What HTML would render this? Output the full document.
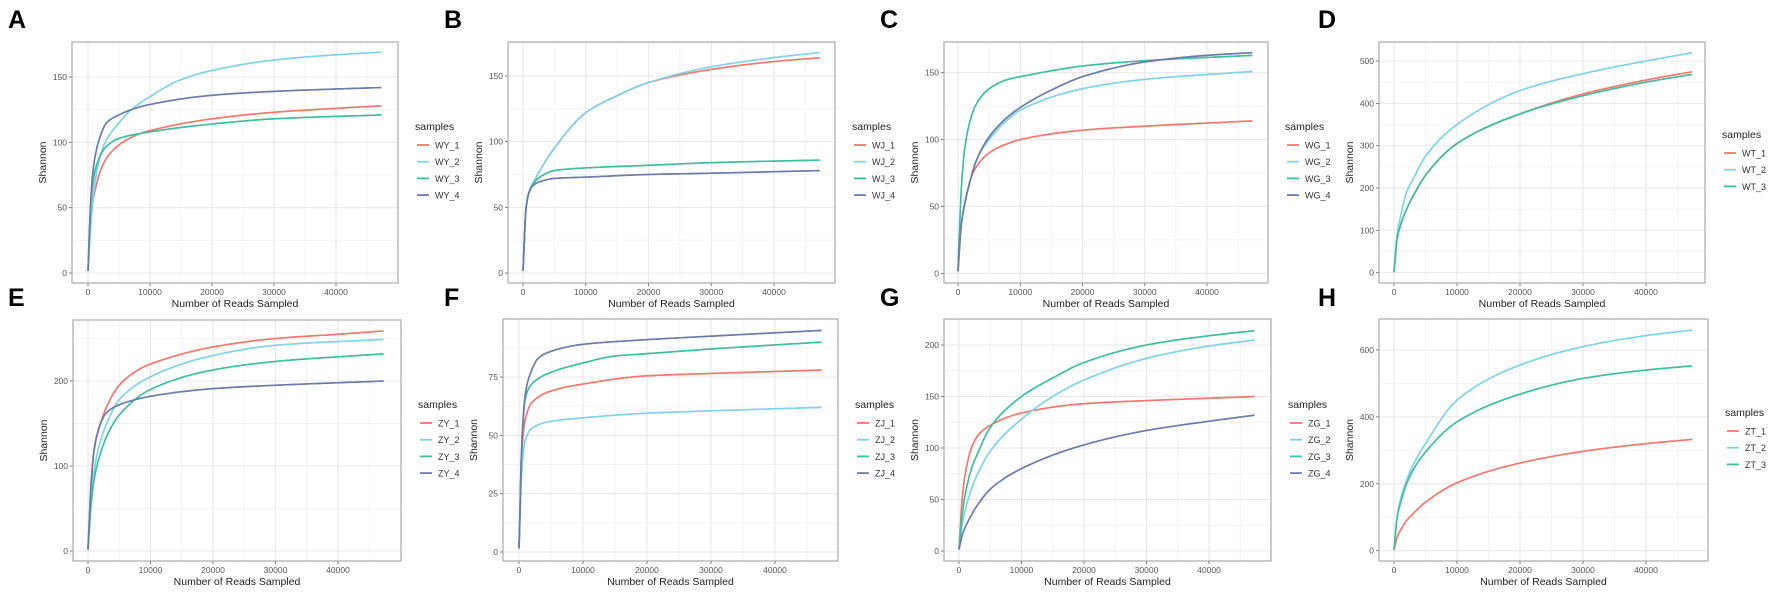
<!DOCTYPE html>
<html><head><meta charset="utf-8"><style>
html,body{margin:0;padding:0;background:#fff;}
svg text{font-family:"Liberation Sans",Arial,sans-serif;}
</style></head><body>
<svg id="s" width="1772" height="592" xmlns="http://www.w3.org/2000/svg"></svg>
<script>
const C={r:"#F8766D",c:"#7FD3E6",g:"#3DBE9F",p:"#6B7BAC"};
const P=[
{L:"A",lx:8,ly:28,box:[72,42,398,283],x0:88,x4:336,y0:273,yv:150,yp:77,ticks:[0,50,100,150],minor:25,
 leg:[415,127],pre:"WY",
 s:[["r",[[0.5,45],[1,60],[2,78],[3,88],[5,98],[8,106],[10,109],[20,118],[30,123],[40,126],[47.5,128]]],
    ["c",[[0.5,40],[1,65],[2,90],[3,102],[5,115],[7,125],[10,135],[15,148],[20,155],[30,163],[40,167],[47.5,169]]],
    ["g",[[0.5,55],[1,75],[2,90],[3,97],[5,103],[10,108],[20,114],[30,118],[47.5,121]]],
    ["p",[[0.5,60],[1,85],[2,105],[3,115],[5,121],[7,125],[10,129],[20,136],[30,139],[47.5,142]]]]},
{L:"B",lx:444,ly:28,box:[508,42,835,283],x0:523,x4:774,y0:273,yv:150,yp:76,ticks:[0,50,100,150],minor:25,
 leg:[852,127],pre:"WJ",
 s:[["r",[[0.5,50],[1,62],[2,72],[5,95],[10,122],[15,135],[20,145],[30,155],[40,161],[47.5,164]]],
    ["c",[[0.5,50],[1,62],[2,72],[5,95],[10,122],[15,135],[20,145],[30,157],[40,164],[47.5,168]]],
    ["g",[[0.5,50],[1,62],[2,70],[3,74],[5,78],[10,80],[20,82],[30,84],[47.5,86]]],
    ["p",[[0.5,50],[1,62],[2,68],[3,70],[5,72],[10,73],[20,75],[30,76],[47.5,78]]]]},
{L:"C",lx:880,ly:28,box:[944,42,1268,283],x0:958,x4:1207,y0:273.3,yv:150,yp:72.7,ticks:[0,50,100,150],minor:25,
 leg:[1285,127],pre:"WG",
 s:[["r",[[0.5,35],[1,50],[2,70],[3,80],[5,90],[8,97],[10,100],[20,107],[30,110],[47.5,114]]],
    ["c",[[0.5,35],[1,50],[2,70],[3,85],[5,100],[8,115],[10,122],[20,138],[30,145],[47.5,151]]],
    ["g",[[0.5,60],[1,90],[2,115],[3,127],[5,138],[8,145],[10,147],[20,155],[30,159],[47.5,163]]],
    ["p",[[0.5,35],[1,50],[2,70],[3,85],[5,102],[8,117],[10,124],[15,137],[20,147],[30,158],[40,163],[47.5,165]]]]},
{L:"D",lx:1318,ly:28,box:[1379,42,1705,283],x0:1394,x4:1646,y0:272.7,yv:500,yp:61,ticks:[0,100,200,300,400,500],minor:50,
 leg:[1722,135],pre:"WT",
 s:[["r",[[0.5,80],[1,110],[2,150],[3,180],[5,230],[10,305],[20,375],[30,422],[40,455],[47.5,475]]],
    ["c",[[0.5,90],[1,130],[2,190],[3,220],[5,275],[10,350],[20,430],[30,470],[40,500],[47.5,520]]],
    ["g",[[0.5,80],[1,110],[2,150],[3,180],[5,230],[10,305],[20,375],[30,418],[40,450],[47.5,469]]]]},
{L:"E",lx:8,ly:306,box:[73,320,401,561],x0:88,x4:338,y0:551,yv:200,yp:381,ticks:[0,100,200],minor:50,
 leg:[418,405],pre:"ZY",
 s:[["r",[[0.5,80],[1,120],[2,150],[3,170],[5,195],[8,213],[10,220],[20,240],[30,250],[40,255],[47.5,259]]],
    ["c",[[0.5,60],[1,95],[2,130],[3,150],[5,178],[10,205],[20,230],[30,242],[47.5,249]]],
    ["g",[[0.5,55],[1,85],[2,115],[3,135],[5,160],[10,190],[20,213],[30,223],[47.5,232]]],
    ["p",[[0.5,80],[1,120],[2,150],[3,163],[5,172],[10,182],[20,191],[30,195],[47.5,200]]]]},
{L:"F",lx:444,ly:306,box:[503,319,838,561],x0:519,x4:775,y0:552,yv:75,yp:377,ticks:[0,25,50,75],minor:12.5,
 leg:[855,405],pre:"ZJ",
 s:[["r",[[0.5,45],[1,57],[2,64],[5,69],[10,72],[20,75.5],[30,76.5],[47.5,78]]],
    ["c",[[0.5,38],[1,48],[2,53],[5,56],[10,57.5],[20,59.5],[30,60.5],[47.5,62]]],
    ["g",[[0.5,50],[1,66],[2,72],[5,77],[10,81],[15,84],[20,85],[30,87],[47.5,90]]],
    ["p",[[0.5,50],[1,68],[2,78],[3,83],[5,86],[10,89],[20,91],[30,92.5],[47.5,95]]]]},
{L:"G",lx:880,ly:306,box:[944,319,1271,561],x0:959,x4:1209,y0:551,yv:200,yp:345,ticks:[0,50,100,150,200],minor:25,
 leg:[1288,405],pre:"ZG",
 s:[["r",[[0.5,50],[1,75],[2,100],[3,112],[5,122],[10,134],[20,143],[30,146],[47.5,150]]],
    ["c",[[0.5,25],[1,40],[2,60],[3,75],[5,97],[10,128],[15,150],[20,166],[30,187],[40,199],[47.5,205]]],
    ["g",[[0.5,35],[1,55],[2,80],[3,95],[5,120],[10,150],[15,168],[20,183],[30,200],[40,209],[47.5,214]]],
    ["p",[[0.5,15],[1,23],[2,35],[3,45],[5,60],[10,80],[20,103],[30,117],[40,126],[47.5,132]]]]},
{L:"H",lx:1318,ly:306,box:[1379,319,1708,561],x0:1394,x4:1646,y0:550.7,yv:600,yp:350,ticks:[0,200,400,600],minor:100,
 leg:[1725,413],pre:"ZT",
 s:[["r",[[0.5,40],[1,60],[2,90],[3,110],[5,145],[10,203],[20,262],[30,297],[40,320],[47.5,333]]],
    ["c",[[0.5,100],[1,150],[2,210],[3,255],[5,320],[10,450],[20,555],[30,610],[40,643],[47.5,660]]],
    ["g",[[0.5,100],[1,140],[2,200],[3,240],[5,295],[10,385],[20,468],[30,515],[40,540],[47.5,553]]]]}
];
function mono(xs,ys){
 const n=xs.length,d=[],m=new Array(n);
 for(let i=0;i<n-1;i++)d.push((ys[i+1]-ys[i])/(xs[i+1]-xs[i]));
 m[0]=d[0];m[n-1]=d[n-2];
 for(let i=1;i<n-1;i++){
  if(d[i-1]*d[i]<=0)m[i]=0;else{const w1=2*(xs[i+1]-xs[i])+(xs[i]-xs[i-1]),w2=(xs[i+1]-xs[i])+2*(xs[i]-xs[i-1]);m[i]=(w1+w2)/(w1/d[i-1]+w2/d[i]);}
 }
 return x=>{let i=0;while(i<n-2&&x>xs[i+1])i++;
  const h=xs[i+1]-xs[i],t=(x-xs[i])/h,t2=t*t,t3=t2*t;
  return (2*t3-3*t2+1)*ys[i]+(t3-2*t2+t)*h*m[i]+(-2*t3+3*t2)*ys[i+1]+(t3-t2)*h*m[i+1];};
}
let h="";
for(const p of P){
 const [bx1,by1,bx2,by2]=p.box;
 const X=v=>p.x0+(p.x4-p.x0)*v/40;
 const Y=v=>p.y0-(p.y0-p.yp)*v/p.yv;
 h+=`<text x="${p.lx}" y="${p.ly}" font-size="25" font-weight="bold" fill="#000">${p.L}</text>`;
 h+=`<rect x="${bx1}" y="${by1}" width="${bx2-bx1}" height="${by2-by1}" fill="#fff"/>`;
 for(let v=p.minor;;v+=p.minor*2){const y=Y(v);if(y<by1)break;h+=`<line x1="${bx1}" x2="${bx2}" y1="${y}" y2="${y}" stroke="#f4f4f4" stroke-width="1"/>`;}
 for(let v=5;v<=45;v+=10){const x=X(v);h+=`<line x1="${x}" x2="${x}" y1="${by1}" y2="${by2}" stroke="#f4f4f4" stroke-width="1"/>`;}
 for(const t of p.ticks){const y=Y(t);h+=`<line x1="${bx1}" x2="${bx2}" y1="${y}" y2="${y}" stroke="#e8e8e8" stroke-width="1.1"/>`;
  h+=`<line x1="${bx1-3}" x2="${bx1}" y1="${y}" y2="${y}" stroke="#555" stroke-width="0.8"/>`;
  h+=`<text x="${bx1-5}" y="${y+3}" font-size="8.5" fill="#555" text-anchor="end">${t}</text>`;}
 for(let v=0;v<=40;v+=10){const x=X(v);h+=`<line x1="${x}" x2="${x}" y1="${by1}" y2="${by2}" stroke="#e8e8e8" stroke-width="1.1"/>`;
  h+=`<line x1="${x}" x2="${x}" y1="${by2}" y2="${by2+3}" stroke="#555" stroke-width="0.8"/>`;
  h+=`<text x="${x}" y="${by2+12}" font-size="8.5" fill="#555" text-anchor="middle">${v*1000}</text>`;}
 h+=`<rect x="${bx1}" y="${by1}" width="${bx2-bx1}" height="${by2-by1}" fill="none" stroke="#aaa" stroke-width="1.2"/>`;
 h+=`<text x="${(bx1+bx2)/2}" y="${by2+24}" font-size="10.5" fill="#222" text-anchor="middle">Number of Reads Sampled</text>`;
 const ty=(by1+by2)/2;
 h+=`<text x="${bx1-26}" y="${ty}" font-size="10.5" fill="#222" text-anchor="middle" transform="rotate(-90 ${bx1-26} ${ty})">Shannon</text>`;
 for(const [c,pts] of p.s){
  const a=[[0,1.5],...pts];
  const f=mono(a.map(q=>q[0]),a.map(q=>q[1]));
  let d="";
  for(let x=0;x<=47.5001;x+=(x<3?0.05:0.25)){d+=(d?"L":"M")+X(x).toFixed(1)+","+Y(f(x)).toFixed(1);}
  h+=`<path d="${d}" fill="none" stroke="${C[c]}" stroke-width="1.7" stroke-linejoin="round"/>`;
 }
 const [lx,ly]=p.leg;
 h+=`<text x="${lx}" y="${ly+3}" font-size="10.5" fill="#222">samples</text>`;
 p.s.forEach(([c],i)=>{const y=ly+18+i*16.7;
  h+=`<line x1="${lx+2}" x2="${lx+14}" y1="${y}" y2="${y}" stroke="${C[c]}" stroke-width="1.8"/>`;
  h+=`<text x="${lx+20}" y="${y+3.5}" font-size="9" fill="#333">${p.pre}_${i+1}</text>`;});
}
document.getElementById("s").innerHTML=h;
</script>
</body></html>
